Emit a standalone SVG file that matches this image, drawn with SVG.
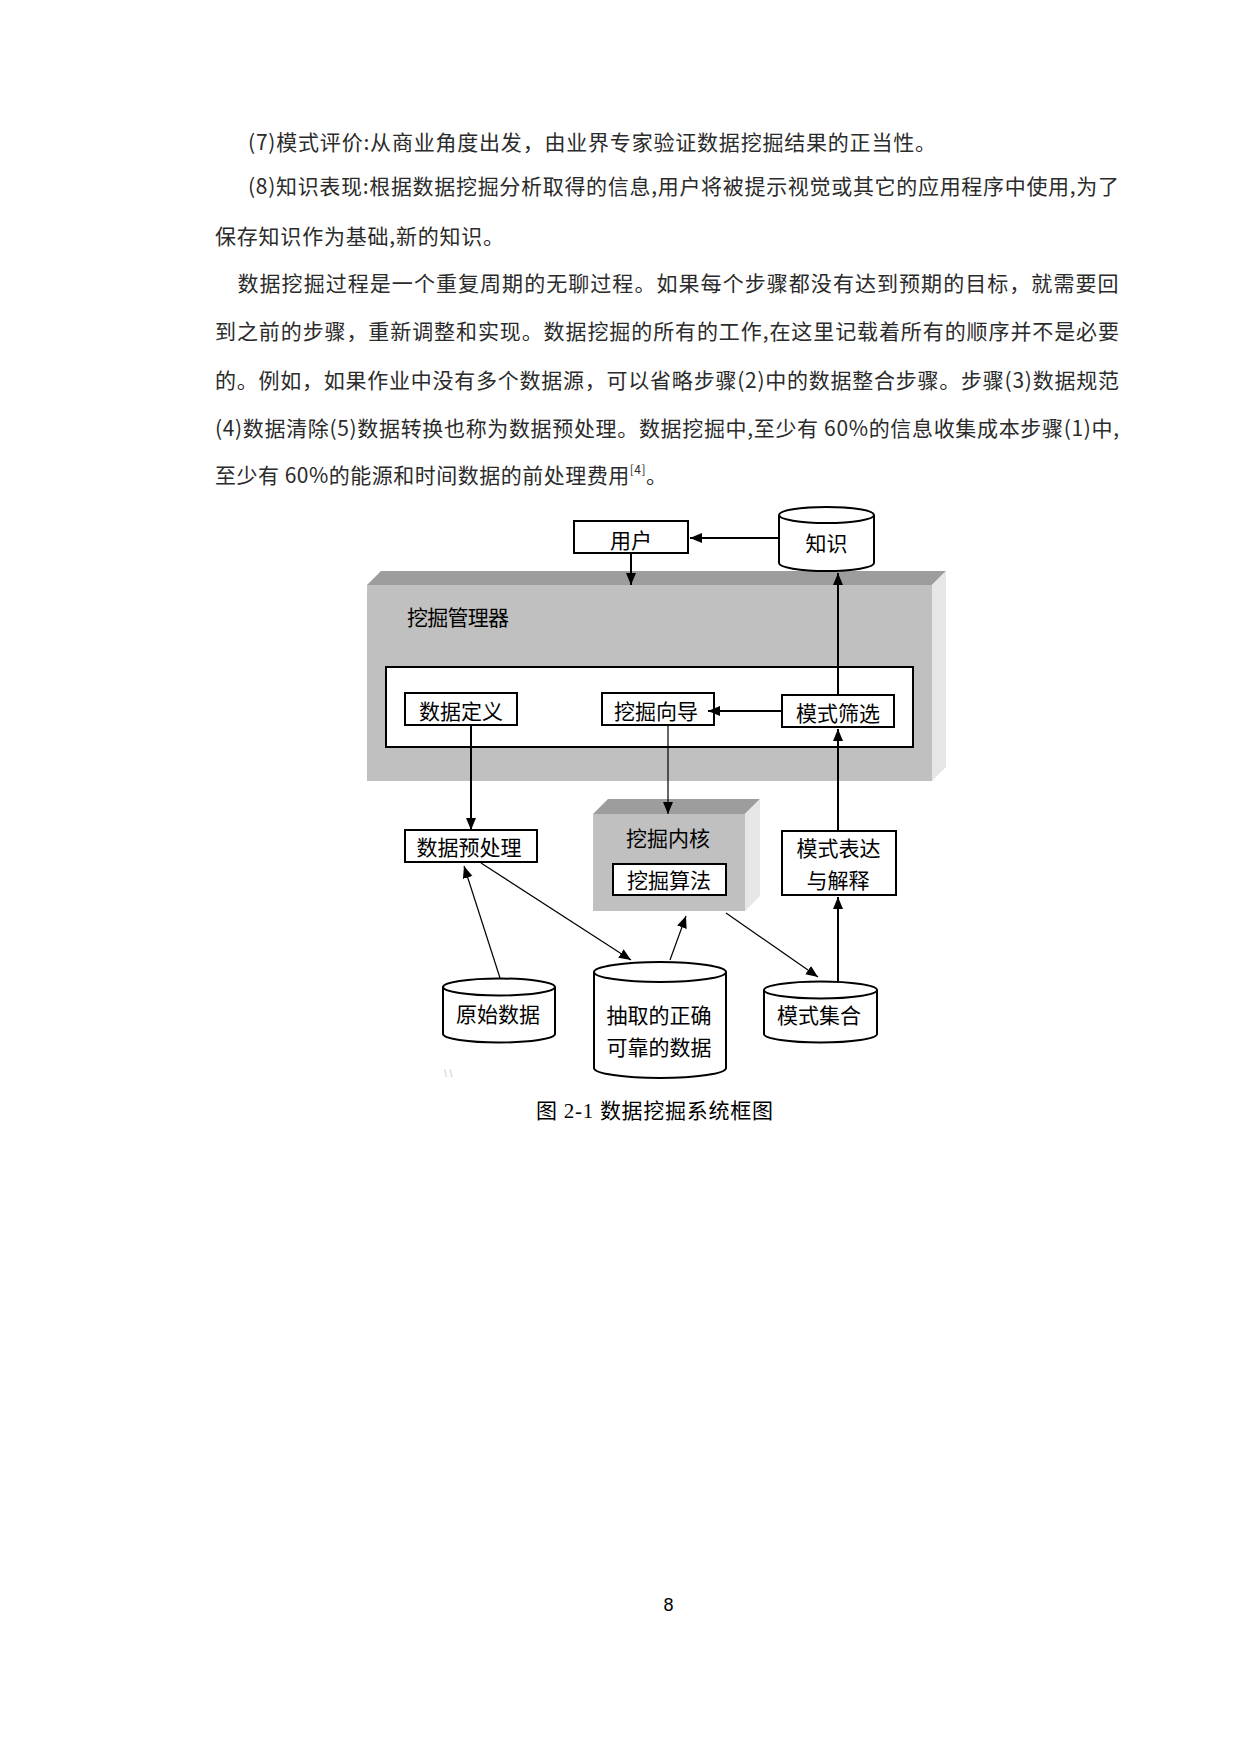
<svg xmlns="http://www.w3.org/2000/svg" width="1240" height="1754" viewBox="0 0 1240 1754">
<defs>
<style>
.body{font-family:"Noto Sans CJK SC","Liberation Sans",sans-serif;font-size:21px;fill:#2b2b2b}
.lbl{font-family:"Noto Sans CJK SC","Liberation Sans",sans-serif;font-size:21px;fill:#000;text-anchor:middle}
.box{fill:#fff;stroke:#000;stroke-width:2}
.cyl{fill:#fff;stroke:#000;stroke-width:2}
.c2{fill:none;stroke:#000;stroke-width:2}
.c1{fill:none;stroke:#000;stroke-width:1.2}
</style>
<marker id="ah" markerUnits="userSpaceOnUse" markerWidth="14" markerHeight="12" refX="12" refY="5" orient="auto">
<path d="M0,0 L12,5 L0,10 z" fill="#000"/>
</marker>
</defs>
<rect width="1240" height="1754" fill="#fff"/>

<g id="bodytext">
<text class="body" x="248" y="150" textLength="688" lengthAdjust="spacing">(7)模式评价:从商业角度出发，由业界专家验证数据挖掘结果的正当性。</text>
<text class="body" x="248" y="194" textLength="871" lengthAdjust="spacing">(8)知识表现:根据数据挖掘分析取得的信息,用户将被提示视觉或其它的应用程序中使用,为了</text>
<text class="body" x="215" y="243.5" textLength="289" lengthAdjust="spacing">保存知识作为基础,新的知识。</text>
<text class="body" x="237.5" y="290.5" textLength="881" lengthAdjust="spacing">数据挖掘过程是一个重复周期的无聊过程。如果每个步骤都没有达到预期的目标，就需要回</text>
<text class="body" x="215" y="338.5" textLength="904" lengthAdjust="spacing">到之前的步骤，重新调整和实现。数据挖掘的所有的工作,在这里记载着所有的顺序并不是必要</text>
<text class="body" x="215" y="388" textLength="904" lengthAdjust="spacing">的。例如，如果作业中没有多个数据源，可以省略步骤(2)中的数据整合步骤。步骤(3)数据规范</text>
<text class="body" x="215" y="435.5" textLength="904" lengthAdjust="spacing">(4)数据清除(5)数据转换也称为数据预处理。数据挖掘中,至少有 60%的信息收集成本步骤(1)中,</text>
<text class="body" x="215" y="483" textLength="452" lengthAdjust="spacing">至少有 60%的能源和时间数据的前处理费用<tspan font-size="12" dy="-9">[4]</tspan><tspan dy="9">。</tspan></text>
</g>

<g id="manager">
<rect x="367" y="585" width="565" height="196" fill="#c0c0c0"/>
<polygon points="367,585 381,571 946,571 932,585" fill="#9d9d9d"/>
<polygon points="932,585 946,571 946,767 932,781" fill="#e6e6e6"/>
<text class="lbl" x="407" y="625" style="text-anchor:start" textLength="102" lengthAdjust="spacing">挖掘管理器</text>
<rect x="386" y="667" width="527" height="80" class="box"/>
</g>

<g id="kernel">
<rect x="593" y="814" width="152" height="97" fill="#c0c0c0"/>
<polygon points="593,814 608,799 760,799 745,814" fill="#9d9d9d"/>
<polygon points="745,814 760,799 760,896 745,911" fill="#e6e6e6"/>
<text class="lbl" x="668" y="846">挖掘内核</text>
</g>

<g id="user">
<rect x="574" y="521" width="114" height="32" class="box"/>
<text class="lbl" x="631" y="548">用户</text>
</g>

<g id="knowledge">
<path class="cyl" d="M779,515 A47.5,8 0 0 1 874,515 L874,563 A47.5,8 0 0 1 779,563 Z"/>
<path class="c2" d="M779,515 A47.5,8 0 0 0 874,515"/>
<text class="lbl" x="826.5" y="551">知识</text>
</g>

<g id="datadef">
<rect x="405" y="693" width="112" height="32" class="box"/>
<text class="lbl" x="461" y="719">数据定义</text>
</g>

<g id="guide">
<rect x="602" y="693" width="112" height="32" class="box"/>
<text class="lbl" x="656" y="719">挖掘向导</text>
</g>

<g id="filter">
<rect x="782" y="695" width="112" height="32" class="box"/>
<text class="lbl" x="838" y="721">模式筛选</text>
</g>

<g id="preprocess">
<rect x="405" y="830" width="132" height="32" class="box"/>
<text class="lbl" x="469" y="855">数据预处理</text>
</g>

<g id="algorithm">
<rect x="613" y="864" width="113" height="31" class="box"/>
<text class="lbl" x="669" y="888">挖掘算法</text>
</g>

<g id="express">
<rect x="782" y="831" width="114" height="64" class="box"/>
<text class="lbl" x="838.5" y="856">模式表达</text>
<text class="lbl" x="838" y="888">与解释</text>
</g>

<g id="rawdata">
<path class="cyl" d="M443,987 A56,8.5 0 0 1 555,987 L555,1034 A56,8.5 0 0 1 443,1034 Z"/>
<path class="c2" d="M443,987 A56,8.5 0 0 0 555,987"/>
<text class="lbl" x="498" y="1022">原始数据</text>
</g>

<g id="cleandata">
<path class="cyl" d="M594,972 A66,10 0 0 1 726,972 L726,1068 A66,10 0 0 1 594,1068 Z"/>
<path class="c2" d="M594,972 A66,10 0 0 0 726,972"/>
<text class="lbl" x="659" y="1023">抽取的正确</text>
<text class="lbl" x="659" y="1055">可靠的数据</text>
</g>

<g id="patternset">
<path class="cyl" d="M764,990 A56.5,8.5 0 0 1 877,990 L877,1034 A56.5,8.5 0 0 1 764,1034 Z"/>
<path class="c2" d="M764,990 A56.5,8.5 0 0 0 877,990"/>
<text class="lbl" x="819" y="1023">模式集合</text>
</g>

<g id="connectors">
<line class="c2" x1="779" y1="538" x2="690" y2="538" marker-end="url(#ah)"/>
<line class="c2" x1="631" y1="553" x2="631" y2="585" marker-end="url(#ah)"/>
<line class="c2" x1="838" y1="695" x2="838" y2="573" marker-end="url(#ah)"/>
<line class="c2" x1="782" y1="711" x2="708" y2="711" marker-end="url(#ah)"/>
<line class="c2" x1="838" y1="831" x2="838" y2="729" marker-end="url(#ah)"/>
<line class="c2" x1="471" y1="725" x2="471" y2="830" marker-end="url(#ah)"/>
<line class="c1" x1="668" y1="725" x2="668" y2="814" marker-end="url(#ah)"/>
<line class="c2" x1="838" y1="981" x2="838" y2="897" marker-end="url(#ah)"/>
<line class="c1" x1="500" y1="978" x2="464" y2="866" marker-end="url(#ah)"/>
<line class="c1" x1="481" y1="863" x2="631" y2="960" marker-end="url(#ah)"/>
<line class="c1" x1="670" y1="960" x2="686" y2="916" marker-end="url(#ah)"/>
<line class="c1" x1="726" y1="913" x2="818" y2="977" marker-end="url(#ah)"/>
</g>

<text x="444" y="1077" font-family="Liberation Sans, sans-serif" font-size="10" fill="#c8c8c8">\ \</text>

<text id="caption" x="536" y="1118" font-family="Liberation Serif, Noto Sans CJK SC, serif" font-size="21" fill="#000" textLength="237" lengthAdjust="spacing">图 2-1 数据挖掘系统框图</text>

<text id="pagenum" x="668.5" y="1611" font-family="Liberation Sans, sans-serif" font-size="18" fill="#000" text-anchor="middle">8</text>
</svg>
